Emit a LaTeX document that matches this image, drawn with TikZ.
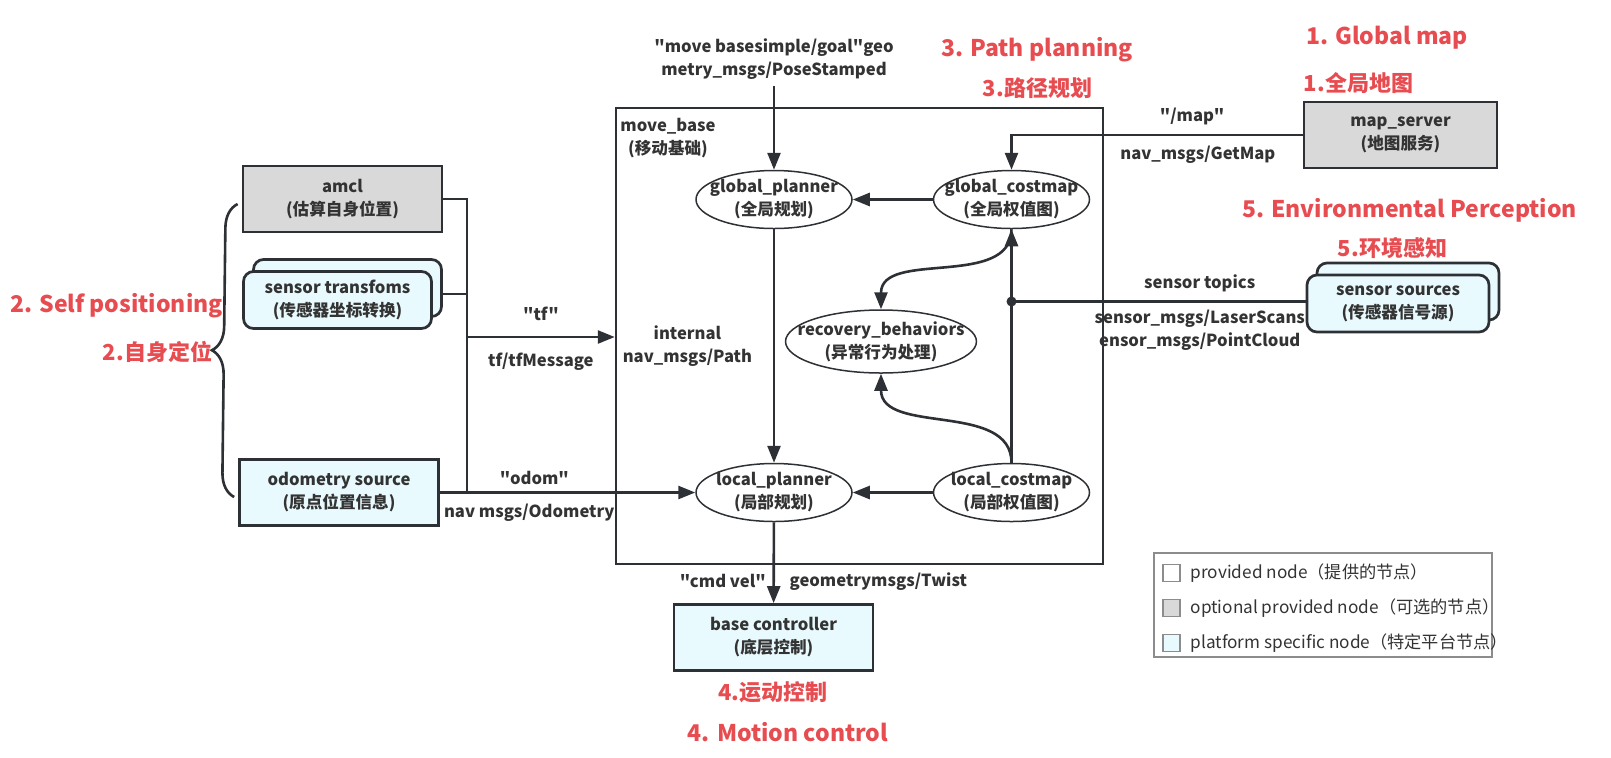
\documentclass[tikz,border=0pt]{standalone}
\usepackage{fontspec}
\newfontfamily\cjk{Noto Sans CJK SC}
\usepackage{tikz}
\usetikzlibrary{arrows.meta, positioning, calc, shapes.geometric, shadows, decorations.pathreplacing}
\usepackage{xcolor}
\definecolor{linec}{RGB}{45,48,52}
\definecolor{textc}{RGB}{51,51,51}
\definecolor{optgray}{RGB}{217,217,217}
\definecolor{platcyan}{RGB}{232,250,253}
\definecolor{stepred}{RGB}{231,76,80}
\definecolor{leggray}{RGB}{140,140,140}

\begin{document}
\begin{tikzpicture}[x=0.5pt,y=-0.5pt,font=\cjk\fontsize{8.3}{11.5}\selectfont\bfseries,text=textc,box/.style={rectangle, draw=linec, line width=1.35pt, minimum width=99.5pt, minimum height=33pt, align=center},stack/.style={box, fill=platcyan, rounded corners=5pt, minimum width=94pt, minimum height=28.5pt, copy shadow={shadow xshift=5pt, shadow yshift=6pt, draw=linec, fill=platcyan, line width=1.35pt}},oval/.style={ellipse, draw=linec, line width=0.75pt, fill=white, minimum width=78pt, minimum height=29pt, inner xsep=-8pt, inner ysep=-3pt, align=center},arrow/.style={-{Triangle[length=8.5pt, width=6.5pt]}, draw=linec, line width=1.3pt},wire/.style={draw=linec, line width=1.3pt},msg/.style={align=center},redlbl/.style={text=stepred, font=\cjk\fontsize{11.5}{14}\selectfont\bfseries},redzh/.style={text=stepred, font=\cjk\fontsize{11}{13}\selectfont\bfseries},legsq/.style={rectangle, draw=leggray, line width=0.6pt, minimum size=8.5pt, inner sep=0pt},legtxt/.style={font=\cjk\fontsize{8.6}{10.5}\selectfont, text=textc}]
\useasboundingbox (0,0) rectangle (1611,757);
% move_base frame
\node[rectangle, draw=linec, line width=1.25pt, minimum width=243.5pt, minimum height=228pt] (mb) at (859.5,336) {};
\node[msg] (mblbl) at (668,138) {move\_base\\(移动基础)};
% nodes outside
\node[box, fill=optgray] (amcl) at (342.5,199) {amcl\\(估算自身位置)};
\node[stack] (senstf) at (337.5,300) {sensor transfoms\\(传感器坐标转换)};
\node[box, fill=platcyan] (odom) at (339,492.5) {odometry source\\(原点位置信息)};
\node[box, fill=optgray, minimum width=96.5pt] (mapsrv) at (1400.5,135) {map\_server\\(地图服务)};
\node[stack, minimum width=91pt] (sensrc) at (1398,303.5) {sensor sources\\(传感器信号源)};
\node[box, fill=platcyan] (basectl) at (773.5,637.5) {base controller\\(底层控制)};
\node[msg] (goal) at (774,59) {"move basesimple/goal"geo\\metry\_msgs/PoseStamped};
% nodes inside move_base
\node[oval] (gplan) at (774,199.5) {global\_planner\\(全局规划)};
\node[oval] (gcost) at (1011.5,199.5) {global\_costmap\\(全局权值图)};
\node[oval, minimum width=92pt, minimum height=31.5pt] (recov) at (881,341.5) {recovery\_behaviors\\(异常行为处理)};
\node[oval] (lplan) at (774,492.5) {local\_planner\\(局部规划)};
\node[oval] (lcost) at (1011.5,492.5) {local\_costmap\\(局部权值图)};
% connectors
\coordinate (tfj) at (467,337);
\coordinate (odj) at (467,492.5);
\draw[wire] (amcl.east) -| (odj);
\draw[wire] ([xshift=5pt,yshift=3pt]senstf.east) -- ([yshift=3pt]senstf.east -| tfj);
\draw[arrow] (tfj) -- (tfj -| mb.west) node[midway, above=4pt] {"tf"} node[midway, below=4pt] {tf/tfMessage};
\draw[arrow] (odom.east) -- (lplan.west) node[pos=0.37, above] {"odom"} node[pos=0.35, below=2pt] {nav msgs/Odometry};
\draw[arrow] (goal) -- (gplan);
\draw[arrow] (mapsrv.west) -| (gcost.north) node[pos=0.19, above=1pt] {"/map"} node[pos=0.18, below=1.5pt] {nav\_msgs/GetMap};
\draw[arrow] (gcost) -- (gplan);
\draw[arrow] (gplan) -- (lplan) node[midway, left=7pt, msg] {internal\\nav\_msgs/Path};
\draw[arrow] (lcost) -- (lplan);
\draw[arrow] (lcost) -- (gcost);
\coordinate (sdot) at ([yshift=1pt]sensrc.west -| lcost.north);
\fill[linec] (sdot) circle (2.5pt);
\draw[wire] ([yshift=1pt]sensrc.west) -- (sdot) node[pos=0.36, above=1pt] {sensor topics} node[pos=0.36, below=0.5pt, msg] {sensor\_msgs/LaserScans\\ensor\_msgs/PointCloud};
\draw[arrow] (gcost.south) to[out=-90, in=90] (recov.north);
\draw[arrow] (lcost.north) to[out=90, in=-90] (recov.south);
\draw[arrow] (lplan) -- (basectl) node[pos=0.73, left=0pt] {"cmd vel"} node[pos=0.73, right=4pt] {geometrymsgs/Twist};
\draw[wire, decorate, decoration={brace, amplitude=12pt}] ([xshift=-2pt, yshift=-2.25pt]odom.west) -- ([xshift=-2pt, yshift=-2.5pt]amcl.west);
% red step labels
\node[redlbl] (selfen) at (116.5,306) {2. Self positioning};
\node[redzh] (selfzh) at (157.5,352) {2.自身定位};
\node[redlbl] (pathen) at (1037,50) {3. Path planning};
\node[redzh] (pathzh) at (1037.5,88) {3.路径规划};
\node[redlbl] (mapen) at (1387,38) {1. Global map};
\node[redzh] (mapzh) at (1358.5,83) {1.全局地图};
\node[redlbl] (enven) at (1409.5,210) {5. Environmental Perception};
\node[redzh] (envzh) at (1392.5,248) {5.环境感知};
\node[redzh] (motzh) at (773,692) {4.运动控制};
\node[redlbl] (moten) at (788,732) {4. Motion control};
% legend
\node[rectangle, draw=leggray, line width=0.6pt, minimum width=169pt, minimum height=52pt] (legend) at (1323,605) {};
\node[legsq, fill=white] (lg1) at (1171.5,573) {};
\node[legsq, fill=optgray] (lg2) at (1171.5,608) {};
\node[legsq, fill=platcyan] (lg3) at (1171.5,643) {};
\node[legtxt, right=1.5pt of lg1] (lgt1) {provided node（提供的节点）};
\node[legtxt, right=1.5pt of lg2] (lgt2) {optional provided node（可选的节点）};
\node[legtxt, right=1.5pt of lg3] (lgt3) {platform specific node（特定平台节点）};
\end{tikzpicture}
\end{document}
